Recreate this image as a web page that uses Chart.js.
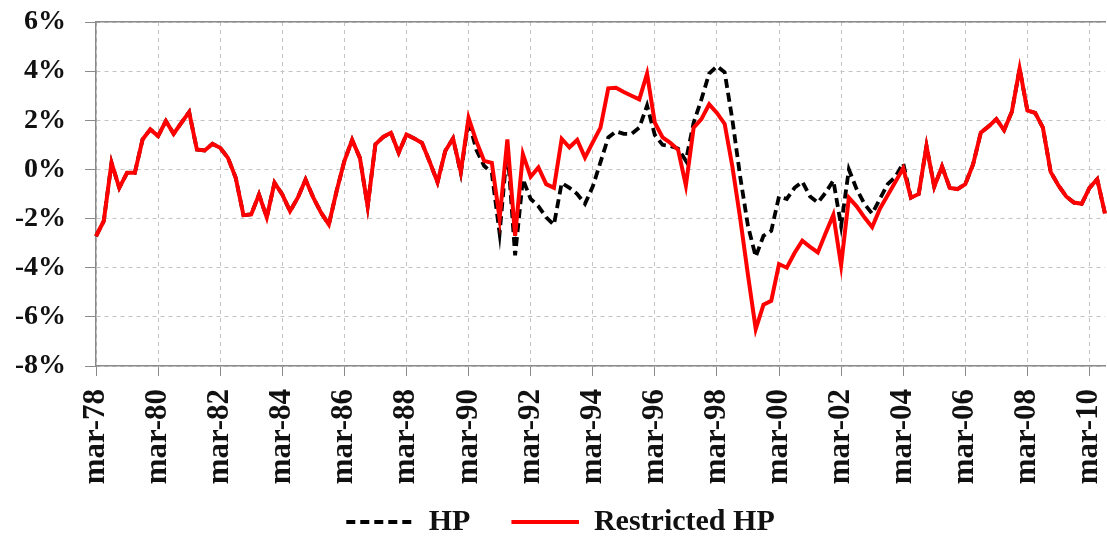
<!DOCTYPE html>
<html>
<head>
<meta charset="utf-8">
<title>HP vs Restricted HP</title>
<script src="https://cdn.jsdelivr.net/npm/chart.js@4.4.0/dist/chart.umd.min.js"></script>
<style>
  html, body { margin: 0; padding: 0; background: #fff; }
  #wrap { width: 1107px; height: 541px; }
</style>
</head>
<body>
<div id="wrap"><canvas id="gapChart"></canvas></div>
<script>
// quarterly categories, mar-78 .. sep-10
const months = ['mar', 'jun', 'sep', 'dec'];
const firstYear = 1978;
const lastYear = 2010;
const lastQuarter = 2; // sep
const quarters = [];
for (let y = firstYear; y <= lastYear; y++) {
  months.forEach((m, q) => {
    if (y === lastYear && q > lastQuarter) return;
    quarters.push(m + '-' + String(y).slice(2));
  });
}

const yTicks = [-8, -6, -4, -2, 0, 2, 4, 6];

// values in %
const hp = [
  -2.72, -2.1, 0.27, -0.75, -0.14, -0.14, 1.22, 1.63,
  1.36, 1.97, 1.45, 1.9, 2.33, 0.81, 0.77, 1.04,
  0.88, 0.47, -0.34, -1.86, -1.83, -1.02, -1.95, -0.54,
  -1.02, -1.7, -1.15, -0.41, -1.15, -1.76, -2.24, -0.88,
  0.34, 1.2, 0.47, -1.5, 1.02, 1.32, 1.49, 0.68,
  1.42, 1.26, 1.08, 0.3, -0.52, 0.75, 1.26, -0.15,
  2.0, 0.8, 0.15, -0.15, -2.6, 0.9, -3.5, -0.4,
  -1.2, -1.5, -1.95, -2.25, -0.55, -0.75, -1.0, -1.4,
  -0.7, 0.3, 1.3, 1.55, 1.45, 1.45, 1.7, 2.6,
  1.4, 1.0, 0.95, 0.85, 0.35, 1.9, 2.85, 3.9,
  4.2, 3.95, 2.0, -0.3, -2.3, -3.55, -2.7, -2.5,
  -1.1, -1.2, -0.75, -0.5, -1.1, -1.35, -0.95, -0.45,
  -2.3, 0.0, -0.8, -1.4, -1.8, -1.2, -0.6, -0.3,
  0.25, -1.15, -1.0, 0.95, -0.7, 0.12, -0.75, -0.8,
  -0.6, 0.2, 1.5, 1.75, 2.05, 1.6, 2.35, 4.1,
  2.4, 2.3, 1.7, -0.1, -0.65, -1.1, -1.35, -1.4,
  -0.75, -0.4, -1.8
];

const restrictedHP = [
  -2.72, -2.1, 0.27, -0.75, -0.14, -0.14, 1.22, 1.63,
  1.36, 1.97, 1.45, 1.9, 2.33, 0.81, 0.77, 1.04,
  0.88, 0.47, -0.34, -1.86, -1.83, -1.02, -1.95, -0.54,
  -1.02, -1.7, -1.15, -0.41, -1.15, -1.76, -2.24, -0.88,
  0.34, 1.2, 0.47, -1.5, 1.02, 1.32, 1.49, 0.68,
  1.42, 1.26, 1.08, 0.3, -0.52, 0.75, 1.26, -0.1,
  2.1, 1.15, 0.35, 0.27, -2.0, 1.22, -2.7, 0.62,
  -0.3, 0.08, -0.6, -0.75, 1.24, 0.9, 1.2, 0.48,
  1.1, 1.7, 3.3, 3.32, 3.15, 3.0, 2.85, 3.9,
  1.9, 1.3, 1.08, 0.8, -0.65, 1.7, 2.05, 2.65,
  2.3, 1.85, 0.1, -2.0, -4.3, -6.5, -5.5, -5.35,
  -3.85, -4.0, -3.4, -2.9, -3.15, -3.38, -2.6, -1.85,
  -3.9, -1.15, -1.5, -1.95, -2.35, -1.6, -1.05, -0.5,
  0.05, -1.15, -1.0, 0.95, -0.7, 0.12, -0.75, -0.8,
  -0.6, 0.2, 1.5, 1.75, 2.05, 1.6, 2.35, 4.1,
  2.4, 2.3, 1.7, -0.1, -0.65, -1.1, -1.35, -1.4,
  -0.75, -0.4, -1.8
];

const serif = "'Liberation Serif', 'Times New Roman', serif";
const gridGray = '#c4c4c4';
const axisGray = '#8a8a8a';

const ctx = document.getElementById('gapChart').getContext('2d');
const gapChart = new Chart(ctx, {
  type: 'line',
  data: {
    labels: quarters,
    datasets: [
      {
        label: 'HP',
        data: hp,
        borderColor: '#000',
        backgroundColor: 'transparent',
        borderWidth: 3.8,
        borderDash: [9, 5],
        pointRadius: 0,
        tension: 0,
        fill: false,
        order: 1
      },
      {
        label: 'Restricted HP',
        data: restrictedHP,
        borderColor: '#f00',
        backgroundColor: 'transparent',
        borderWidth: 4,
        pointRadius: 0,
        tension: 0,
        fill: false,
        order: 0
      }
    ]
  },
  options: {
    responsive: true,
    maintainAspectRatio: false,
    animation: false,
    layout: { padding: { top: 22, right: 2, left: 16, bottom: -6 } },
    plugins: {
      legend: {
        position: 'bottom',
        labels: {
          // 67.5 keeps the dashes of the flat legend box aligned both ways
          boxWidth: 67.5,
          boxHeight: 0,
          padding: 5,
          color: '#111',
          font: { family: serif, size: 30, weight: 'bold' },
          generateLabels: chart => {
            const items = Chart.defaults.plugins.legend.labels.generateLabels(chart);
            items.sort((a, b) => a.datasetIndex - b.datasetIndex);
            // wider gap after the first entry
            items[0].text += '\u2003\u2009';
            return items;
          }
        }
      },
      tooltip: { enabled: false }
    },
    scales: {
      x: {
        type: 'category',
        offset: false,
        grid: {
          color: c => c.index % 8 === 0 ? gridGray : 'transparent',
          lineWidth: c => c.index % 8 === 0 ? 1 : 0,
          tickColor: c => c.index % 8 === 0 ? axisGray : 'transparent',
          tickWidth: c => c.index % 8 === 0 ? 1 : 0,
          tickLength: 10,
          tickBorderDash: []
        },
        border: { color: axisGray, width: 1.5, dash: [4, 4] },
        ticks: {
          autoSkip: false,
          minRotation: 90,
          maxRotation: 90,
          padding: 13,
          color: '#111',
          font: { family: serif, size: 31, weight: 'bold' },
          callback: (v, i) => i % 8 === 0 ? quarters[i] : ''
        },
        afterFit: s => {
          s.height = 136;
          s.paddingLeft = 0;
          s.paddingRight = 0;
        }
      },
      xTop: {
        type: 'category',
        position: 'top',
        grid: { display: false, drawTicks: false },
        ticks: { display: false },
        border: { color: axisGray, width: 1.5 },
        afterFit: s => {
          s.height = 0;
          s.paddingLeft = 0;
          s.paddingRight = 0;
        }
      },
      y: {
        min: yTicks[0],
        max: yTicks[yTicks.length - 1],
        afterBuildTicks: s => { s.ticks = yTicks.map(v => ({ value: v })); },
        grid: {
          color: gridGray,
          tickColor: axisGray,
          tickLength: 11,
          tickBorderDash: []
        },
        border: { color: axisGray, width: 1.5, dash: [4, 4] },
        ticks: {
          padding: 19,
          color: '#111',
          font: { family: serif, size: 28, weight: 'bold' },
          callback: v => v + '%'
        },
        afterFit: s => {
          s.width = 80;
          s.paddingTop = 0;
          s.paddingBottom = 0;
        }
      }
    }
  }
});
</script>
</body>
</html>
